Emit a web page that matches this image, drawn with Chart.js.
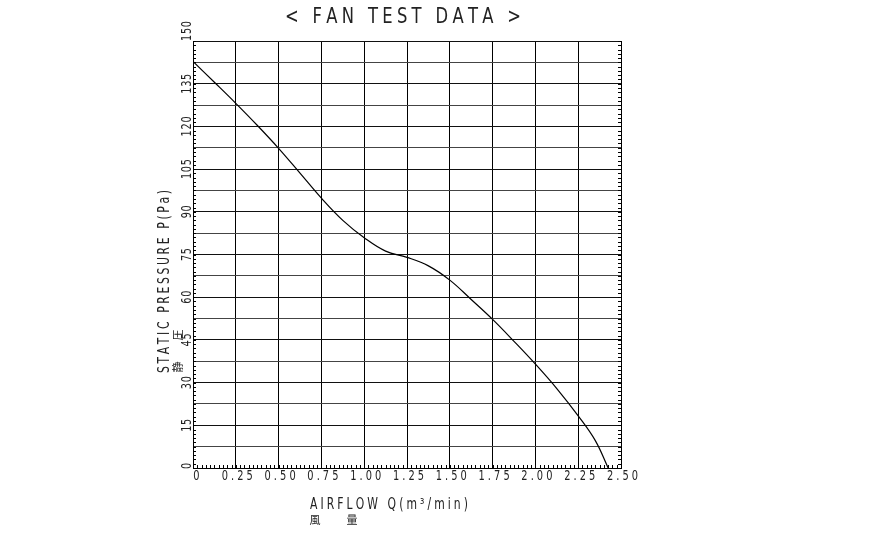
<!DOCTYPE html>
<html><head><meta charset="utf-8">
<script src="https://cdn.jsdelivr.net/npm/chart.js@4"></script>
<style>html,body{margin:0;padding:0;background:#fff;overflow:hidden}#wrap{width:870px;height:534px}</style>
</head><body><div id="wrap"><canvas id="c" width="870" height="534"></canvas></div>
<script>
// ---- data ----
const airflow  = [0, 0.125, 0.25, 0.375, 0.5, 0.625, 0.75, 0.875, 1.0, 1.125, 1.25, 1.375, 1.5, 1.625, 1.75, 1.875, 2.0, 2.125, 2.25, 2.35, 2.425];
const pressure = [142.8, 135.5, 128.1, 120.4, 112.3, 103.6, 94.8, 87.0, 80.9, 76.2, 74.0, 71.0, 66.0, 59.2, 52.2, 44.5, 36.5, 27.9, 18.3, 9.6, 0];
const xTickValues = [0, 0.25, 0.5, 0.75, 1.0, 1.25, 1.5, 1.75, 2.0, 2.25, 2.5];
const xTickLabels = ['0', '0.25', '0.50', '0.75', '1.00', '1.25', '1.50', '1.75', '2.00', '2.25', '2.50'];
const yTickValues = [0, 15, 30, 45, 60, 75, 90, 105, 120, 135, 150];
const yTickLabels = ['0', '15', '30', '45', '60', '75', '90', '105', '120', '135', '150'];
const chartTitle = '< FAN TEST DATA >';
const xTitleLine1 = 'AIRFLOW Q(m³/min)';
const xTitleLine2 = ['風', '量'];
const yTitleLine1 = 'STATIC PRESSURE P(Pa)';
const yTitleLine2 = ['静', '圧'];

const FONT = "'DejaVu Sans', sans-serif";
const CJK = "'Noto Sans CJK JP', sans-serif";
const INK = '#222';

const points = airflow.map((x, i) => ({x, y: pressure[i]}));

// draws horizontally-condensed, letter-spaced text at (x,y) with optional rotation
function drawText(ctx, text, x, y, o) {
  ctx.save();
  ctx.translate(x, y);
  if (o.rot) ctx.rotate(o.rot);
  ctx.scale(o.sx || 1, 1);
  ctx.font = o.size + 'px ' + (o.font || FONT);
  ctx.textAlign = 'left';
  ctx.textBaseline = 'middle';
  const chars = [...text];
  const widths = chars.map(c => ctx.measureText(c).width);
  const w = widths.reduce((s, v) => s + v, 0);
  let sp = o.spacing || 0;
  if (o.width) sp = (o.width / (o.sx || 1) - w) / (chars.length - 1);
  const total = w + sp * (chars.length - 1);
  let cx = o.align === 'center' ? -total / 2 : (o.align === 'right' ? -total : 0);
  chars.forEach((c, i) => { ctx.fillText(c, cx, 0); cx += widths[i] + sp; });
  ctx.restore();
}

const decor = {
  id: 'decor',
  afterDraw(chart) {
    const ctx = chart.ctx;
    const xs = chart.scales.x, ys = chart.scales.y;
    const a = chart.chartArea;
    ctx.save();
    // minor ticks
    ctx.strokeStyle = '#000';
    ctx.lineWidth = 1;
    ctx.beginPath();
    for (let v = 0; v <= 150.001; v += 1.5) {
      const py = Math.round(ys.getPixelForValue(v)) + 0.5;
      ctx.moveTo(a.left, py); ctx.lineTo(a.left + 3, py);
      ctx.moveTo(a.right, py); ctx.lineTo(a.right - 3, py);
    }
    for (let v = 0; v <= 2.5001; v += 0.025) {
      const px = Math.round(xs.getPixelForValue(v)) + 0.5;
      ctx.moveTo(px, a.bottom); ctx.lineTo(px, a.bottom - 3);
    }
    ctx.stroke();

    ctx.fillStyle = INK;
    // x tick labels
    xTickValues.forEach((v, i) => {
      let px = xs.getPixelForValue(v) + 1.5;
      if (i === 0) px += 2;
      drawText(ctx, xTickLabels[i], px, a.bottom + 8, {size: 14.5, sx: 0.68, spacing: 4.5, align: 'center'});
    });
    // y tick labels (rotated)
    yTickValues.forEach((v, i) => {
      let py = ys.getPixelForValue(v);
      if (i === yTickValues.length - 1) py -= 10;
      if (i === 0) py -= 2;
      drawText(ctx, yTickLabels[i], a.left - 6, py, {size: 13.5, sx: 0.72, spacing: 1, align: 'center', rot: -Math.PI / 2});
    });
    // title
    drawText(ctx, chartTitle, 403, 18, {size: 21, sx: 0.78, width: 236, align: 'center'});
    // x title
    drawText(ctx, xTitleLine1, 310, 505, {size: 15, sx: 0.72, width: 158, align: 'left'});
    drawText(ctx, xTitleLine2[0], 315, 520, {size: 11, font: CJK, align: 'center'});
    drawText(ctx, xTitleLine2[1], 352, 520, {size: 11, font: CJK, align: 'center'});
    // y title
    drawText(ctx, yTitleLine1, 165, 373, {size: 15, sx: 0.72, width: 183, align: 'left', rot: -Math.PI / 2});
    drawText(ctx, yTitleLine2[0], 178, 367, {size: 11, font: CJK, align: 'center', rot: -Math.PI / 2});
    drawText(ctx, yTitleLine2[1], 178, 335, {size: 11, font: CJK, align: 'center', rot: -Math.PI / 2});
    ctx.restore();
  }
};

new Chart(document.getElementById('c'), {
  type: 'scatter',
  data: {
    datasets: [{
      data: points,
      showLine: true,
      borderColor: '#000',
      borderWidth: 1.2,
      pointRadius: 0,
      tension: 0.4,
      fill: false
    }]
  },
  options: {
    responsive: false,
    animation: false,
    events: [],
    layout: { padding: { left: 193, right: 249, top: 41, bottom: 66 } },
    plugins: { legend: { display: false }, tooltip: { enabled: false }, title: { display: false } },
    scales: {
      x: {
        type: 'linear', min: 0, max: 2.5,
        ticks: { display: false, stepSize: 0.25 },
        grid: { color: '#000', lineWidth: 1, drawTicks: false },
        border: { display: true, color: '#000', width: 1 }
      },
      y: {
        type: 'linear', min: 0, max: 150,
        ticks: { display: false, stepSize: 7.5 },
        grid: { color: ctx => (ctx.tick && ctx.tick.value % 15 === 0) ? '#111' : '#444', lineWidth: 1, drawTicks: false },
        border: { display: true, color: '#000', width: 1 }
      }
    }
  },
  plugins: [decor]
});
</script>
</body></html>
